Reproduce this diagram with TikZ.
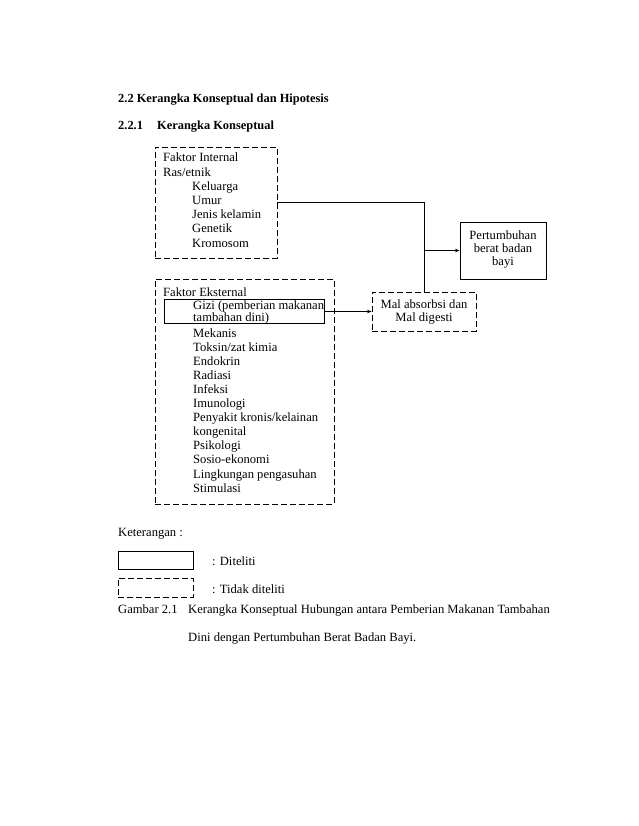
\documentclass[tikz,border=0pt]{standalone}
\usepackage{fontspec}
\setmainfont{Liberation Serif}
\usetikzlibrary{arrows.meta}
\begin{document}
\begin{tikzpicture}[x=1pt,y=-1pt,
  txt/.style={anchor=base west,inner sep=0pt,font=\fontsize{12.6}{14}\selectfont},
  bold/.style={txt,font=\fontsize{12.4}{14}\selectfont\bfseries},
  solidbox/.style={draw,line width=0.9pt,inner sep=0pt},
  dashbox/.style={draw,line width=0.9pt,dash pattern=on 6pt off 3pt,inner sep=0pt},
  conn/.style={line width=0.8pt},
  arr/.style={conn,-{Stealth[length=4.5pt,width=3.5pt]}},
  ctext/.style={align=center,font=\fontsize{12.6}{13}\selectfont}]
\useasboundingbox[fill=white] (0,0) rectangle (638,826);
% headings
\node[bold] (h1) at (118,103) {2.2 Kerangka Konseptual dan Hipotesis};
\node[bold] (h2a) at (118,130) {2.2.1};
\node[bold] (h2b) at (157,130) {Kerangka Konseptual};
% internal box
\node[dashbox,minimum width=122pt,minimum height=111pt] (intbox) at (216,202.5) {};
\node[txt] (i1) at (163,162) {Faktor Internal};
\node[txt] (i2) at (163,176.2) {Ras/etnik};
\foreach \t [count=\k] in {Keluarga,Umur,Jenis kelamin,Genetik,Kromosom}
  \node[txt] (ii\k) at (192,176.2+14.2*\k) {\t};
% external box
\node[dashbox,minimum width=179pt,minimum height=225pt] (extbox) at (244.5,391.5) {};
\node[solidbox,minimum width=160pt,minimum height=24pt] (gizibox) at (244,311.5) {};
\node[txt] (e0) at (163,296) {Faktor Eksternal};
\node[txt] (ea) at (193,309.5) {Gizi (pemberian makanan};
\node[txt] (eb) at (193,321.5) {tambahan dini)};
\foreach \t [count=\k from 0] in {Mekanis,Toksin/zat kimia,Endokrin,Radiasi,Infeksi,Imunologi,Penyakit kronis/kelainan,kongenital,Psikologi,Sosio-ekonomi,Lingkungan pengasuhan,Stimulasi}
  \node[txt] (e\k) at (193,337+14.1*\k) {\t};
% right boxes
\node[dashbox,minimum width=104pt,minimum height=39pt] (malbox) at (424,311.5) {};
\node[ctext] (maltxt) at (424,312) {Mal absorbsi dan\\Mal digesti};
\node[solidbox,minimum width=86pt,minimum height=57pt] (pertbox) at (503,250.5) {};
\node[ctext] (perttxt) at (503,249) {Pertumbuhan\\berat badan\\bayi};
% connectors
\draw[conn] (intbox.east) -- (intbox.east -| malbox.north) -- (malbox.north);
\coordinate (j) at (malbox.north |- pertbox.west);
\draw[arr] (j) -- (pertbox.west);
\draw[arr] (gizibox.east) -- (malbox.west);
% legend
\node[txt] (ket) at (118,536) {Keterangan :};
\node[solidbox,minimum width=75pt,minimum height=18pt] (lsolid) at (155.5,560) {};
\node[txt] (ls) at (212,565) {: Diteliti};
\node[dashbox,minimum width=75pt,minimum height=19pt] (ldash) at (155.5,587.5) {};
\node[txt] (ld) at (212,593) {: Tidak diteliti};
% caption
\node[txt] (g1) at (118,613) {Gambar 2.1};
\node[txt] (g2) at (188,613) {Kerangka Konseptual Hubungan antara Pemberian Makanan Tambahan};
\node[txt] (g3) at (188,641) {Dini dengan Pertumbuhan Berat Badan Bayi.};
\end{tikzpicture}
\end{document}
